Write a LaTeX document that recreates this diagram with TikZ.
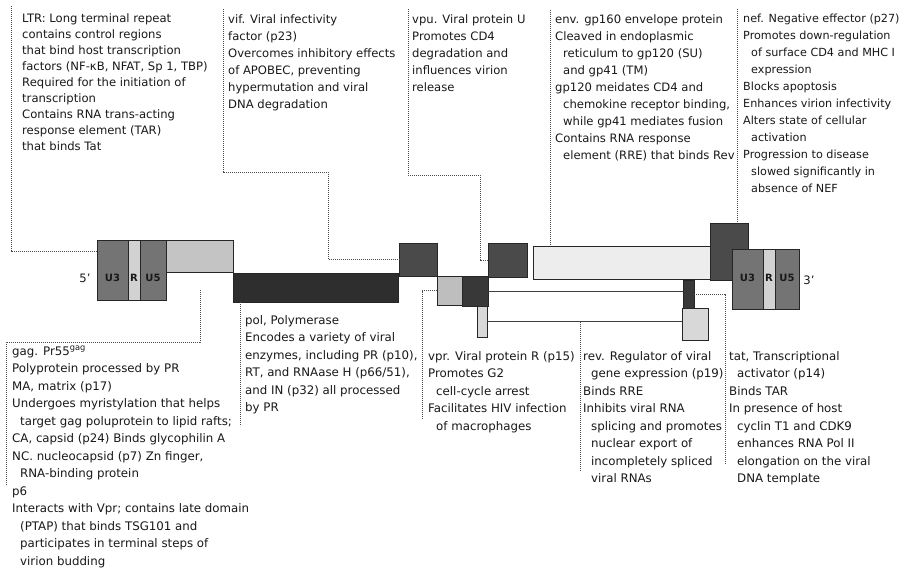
\documentclass[tikz,border=0pt]{standalone}
\usepackage{fontspec}
\setmainfont{DejaVu Sans}
\usetikzlibrary{calc}
\definecolor{ltrgray}{HTML}{747474}
\definecolor{rgray}{HTML}{D2D2D2}
\definecolor{gaggray}{HTML}{C4C4C4}
\definecolor{polgray}{HTML}{2E2E2E}
\definecolor{darkseg}{HTML}{4A4A4A}
\definecolor{tatgray}{HTML}{383838}
\definecolor{lightseg}{HTML}{BEBEBE}
\definecolor{revgray}{HTML}{D8D8D8}
\definecolor{envgray}{HTML}{EDEDED}
\begin{document}
\begin{tikzpicture}[x=1pt,y=-1pt,
  seg/.style={draw=black!85, line width=0.6pt, inner sep=0pt, outer sep=0pt, anchor=north west},
  lbl/.style={anchor=north west, inner sep=0pt, align=left, font=\fontsize{11.6}{17}\selectfont, text=black!90},
  lblltr/.style={lbl, font=\fontsize{11.6}{16}\selectfont},
  lblnef/.style={lbl, font=\fontsize{11.2}{17}\selectfont},
  lblb/.style={lbl, font=\fontsize{11.8}{17.5}\selectfont},
  conn/.style={draw=black!75, line width=0.6pt},
  bord/.style={draw=black!70, line width=0.6pt, dash pattern=on 1.4pt off 0.6pt},
  ltrtext/.style={font=\bfseries\fontsize{10}{12}\selectfont, text=black!90, inner sep=0pt},
  endtext/.style={font=\fontsize{11.6}{14}\selectfont, text=black!90, inner sep=0pt}]
\useasboundingbox (0,0) rectangle (903,578);
\fill[white] (0,0) rectangle (903,578);

% genome segments
\node[seg, fill=gaggray, minimum width=67pt, minimum height=32pt] (gag) at (166,240) {};
\node[seg, fill=polgray, minimum width=165pt, minimum height=29pt] (pol) at (233,273) {};
\node[seg, fill=darkseg, minimum width=38pt, minimum height=33pt] (vif) at (399,243) {};
\node[seg, fill=lightseg, minimum width=25pt, minimum height=29pt] (vpr) at (437,276) {};
\node[seg, fill=tatgray, minimum width=26pt, minimum height=30pt] (tat1) at (462,276) {};
\node[seg, fill=revgray, minimum width=10pt, minimum height=31pt] (rev1) at (477,306) {};
\node[seg, fill=darkseg, minimum width=39pt, minimum height=34pt] (vpu) at (488,243) {};
\node[seg, fill=envgray, minimum width=177pt, minimum height=33pt] (env) at (533,246) {};
\node[seg, fill=tatgray, minimum width=11pt, minimum height=28pt] (tat2) at (683,280) {};
\node[seg, fill=revgray, minimum width=26pt, minimum height=32pt] (rev2) at (682,308) {};
\node[seg, fill=darkseg, minimum width=38pt, minimum height=57pt] (nef) at (710,223) {};

% LTRs
\node[seg, fill=ltrgray, minimum width=31pt, minimum height=60pt] (u3L) at (97,240) {};
\node[seg, fill=rgray, minimum width=12pt, minimum height=60pt] (rL) at (128,240) {};
\node[seg, fill=ltrgray, minimum width=26pt, minimum height=60pt] (u5L) at (140,240) {};
\node[seg, fill=ltrgray, minimum width=31pt, minimum height=60pt] (u3R) at (732,249) {};
\node[seg, fill=rgray, minimum width=12pt, minimum height=60pt] (rR) at (763,249) {};
\node[seg, fill=ltrgray, minimum width=24pt, minimum height=60pt] (u5R) at (775,249) {};

\node[ltrtext] (u3Lt) at (112.5,278) {U3};
\node[ltrtext] (rLt) at (134,278) {R};
\node[ltrtext] (u5Lt) at (153,278) {U5};
\node[ltrtext] (u3Rt) at (747.5,278) {U3};
\node[ltrtext] (rRt) at (769,278) {R};
\node[ltrtext] (u5Rt) at (787,278) {U5};
\node[endtext] (five) at (85,278) {5'};
\node[endtext] (three) at (809,280) {3'};

% top labels
\node[lblltr] (ltrL) at (22,13) {LTR: Long terminal repeat\\contains control regions\\that bind host transcription\\factors (NF-κB, NFAT, Sp 1, TBP)\\Required for the initiation of\\transcription\\Contains RNA trans-acting\\response element (TAR)\\that binds Tat};
\node[lbl] (vifL) at (228,14) {vif. Viral infectivity\\factor (p23)\\Overcomes inhibitory effects\\of APOBEC, preventing\\hypermutation and viral\\DNA degradation};
\node[lbl] (vpuL) at (412,14) {vpu. Viral protein U\\Promotes CD4\\degradation and\\influences virion\\release};
\node[lbl] (envL) at (555,14) {env. gp160 envelope protein\\Cleaved in endoplasmic\\\hspace*{8pt}reticulum to gp120 (SU)\\\hspace*{8pt}and gp41 (TM)\\gp120 meidates CD4 and\\\hspace*{8pt}chemokine receptor binding,\\\hspace*{8pt}while gp41 mediates fusion\\Contains RNA response\\\hspace*{8pt}element (RRE) that binds Rev};
\node[lblnef] (nefL) at (743,14) {nef. Negative effector (p27)\\Promotes down-regulation\\\hspace*{8pt}of surface CD4 and MHC I\\\hspace*{8pt}expression\\Blocks apoptosis\\Enhances virion infectivity\\Alters state of cellular\\\hspace*{8pt}activation\\Progression to disease\\\hspace*{8pt}slowed significantly in\\\hspace*{8pt}absence of NEF};

% bottom labels
\node[lblb] (gagL) at (12,346) {gag. Pr55\textsuperscript{gag}\\Polyprotein processed by PR\\MA, matrix (p17)\\Undergoes myristylation that helps\\\hspace*{8pt}target gag poluprotein to lipid rafts;\\CA, capsid (p24) Binds glycophilin A\\NC. nucleocapsid (p7) Zn finger,\\\hspace*{8pt}RNA-binding protein\\p6\\Interacts with Vpr; contains late domain\\\hspace*{8pt}(PTAP) that binds TSG101 and\\\hspace*{8pt}participates in terminal steps of\\\hspace*{8pt}virion budding};
\node[lblb] (polL) at (245,315) {pol, Polymerase\\Encodes a variety of viral\\enzymes, including PR (p10),\\RT, and RNAase H (p66/51),\\and IN (p32) all processed\\by PR};
\node[lblb] (vprL) at (428,351) {vpr. Viral protein R (p15)\\Promotes G2\\\hspace*{8pt}cell-cycle arrest\\Facilitates HIV infection\\\hspace*{8pt}of macrophages};
\node[lblb] (revL) at (583,351) {rev. Regulator of viral\\\hspace*{8pt}gene expression (p19)\\Binds RRE\\Inhibits viral RNA\\\hspace*{8pt}splicing and promotes\\\hspace*{8pt}nuclear export of\\\hspace*{8pt}incompletely spliced\\\hspace*{8pt}viral RNAs};
\node[lblb] (tatL) at (729,351) {tat, Transcriptional\\\hspace*{8pt}activator (p14)\\Binds TAR\\In presence of host\\\hspace*{8pt}cyclin T1 and CDK9\\\hspace*{8pt}enhances RNA Pol II\\\hspace*{8pt}elongation on the viral\\\hspace*{8pt}DNA template};

% connectors (top)
\coordinate (ltrTop) at (11,6);
\draw[bord] (ltrTop) |- ($(u3L.north west)+(0,11)$);
\coordinate (vifTop) at (223,9);
\coordinate (vifBend) at (328,172);
\draw[bord] (vifTop) |- (vifBend) |- (vif.west);
\coordinate (vpuTop) at (408,9);
\coordinate (vpuBend) at (480,175);
\draw[bord] (vpuTop) |- (vpuBend) |- (vpu.west);
\coordinate (envTop) at (550,10);
\draw[bord] (envTop) -- (envTop |- env.north);
\coordinate (nefTop) at (737,9);
\draw[bord] (nefTop) -- (nefTop |- nef.north);

% connectors (bottom)
\coordinate (gagStart) at (200,290);
\coordinate (gagBend) at (6,342);
\coordinate (gagEnd) at (6,486);
\draw[bord] (gagStart) |- (gagBend) -- (gagEnd);
\coordinate (polEnd) at (240,426);
\draw[bord] (polEnd |- pol.south) -- (polEnd);
\coordinate (vprEnd) at (422,418);
\draw[bord] (vpr.west) -| (vprEnd);
\draw[conn] (rev1.east) -- (rev1.east -| rev2.west);
\coordinate (revEnd) at (580,470);
\draw[bord] (revEnd |- rev1.east) -- (revEnd);
\draw[conn] (tat1.east) -- (tat1.east -| tat2.west);
\coordinate (tatEnd) at (725,464);
\draw[bord] (tat2.east) -| (tatEnd);
\end{tikzpicture}
\end{document}
